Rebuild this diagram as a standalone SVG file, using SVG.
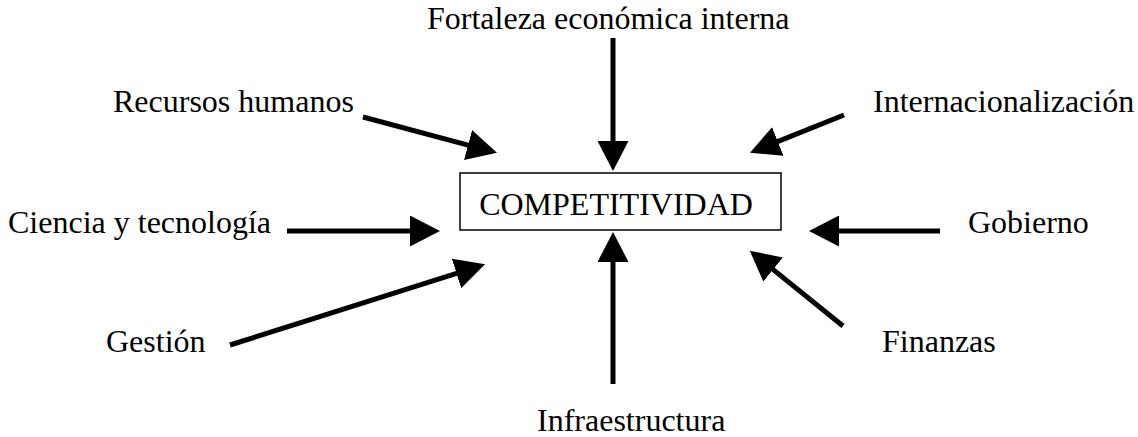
<svg xmlns="http://www.w3.org/2000/svg" width="1138" height="437" viewBox="0 0 1138 437">
<style>
text{font-family:"Liberation Serif","Times New Roman",serif;font-size:32px;fill:#000}
.c{stroke:#000;stroke-width:5;fill:none}
</style>
<defs>
<marker id="ah" viewBox="0 0 30 31" markerWidth="30" markerHeight="31" markerUnits="userSpaceOnUse" refX="1" refY="15.5" orient="auto">
<path d="M0,0 L30,15.5 L0,31 Z" fill="#000"/>
</marker>
</defs>
<rect width="1138" height="437" fill="#fff"/>
<g id="connectors">
<line class="c" x1="363" y1="117" x2="469" y2="145.3" marker-end="url(#ah)"/>
<line class="c" x1="613" y1="38" x2="613" y2="142" marker-end="url(#ah)"/>
<line class="c" x1="844" y1="115" x2="776.9" y2="141.9" marker-end="url(#ah)"/>
<line class="c" x1="287" y1="231" x2="411" y2="231" marker-end="url(#ah)"/>
<line class="c" x1="230" y1="345" x2="457.4" y2="273.1" marker-end="url(#ah)"/>
<line class="c" x1="613" y1="384" x2="613" y2="261" marker-end="url(#ah)"/>
<line class="c" x1="940" y1="231" x2="838" y2="231" marker-end="url(#ah)"/>
<line class="c" x1="843" y1="326" x2="772.3" y2="268.9" marker-end="url(#ah)"/>
</g>
<g id="competitividad">
<rect x="460" y="173" width="321" height="57" fill="#fff" stroke="#000" stroke-width="1.5"/>
<text x="616" y="215" text-anchor="middle">COMPETITIVIDAD</text>
</g>
<g id="fortaleza"><text x="427" y="29">Fortaleza económica interna</text></g>
<g id="recursos"><text x="113" y="112">Recursos humanos</text></g>
<g id="internacionalizacion"><text x="873" y="112">Internacionalización</text></g>
<g id="ciencia"><text x="8" y="233">Ciencia y tecnología</text></g>
<g id="gobierno"><text x="968" y="233">Gobierno</text></g>
<g id="gestion"><text x="106" y="352">Gestión</text></g>
<g id="finanzas"><text x="882" y="352">Finanzas</text></g>
<g id="infraestructura"><text x="537" y="431">Infraestructura</text></g>
</svg>
